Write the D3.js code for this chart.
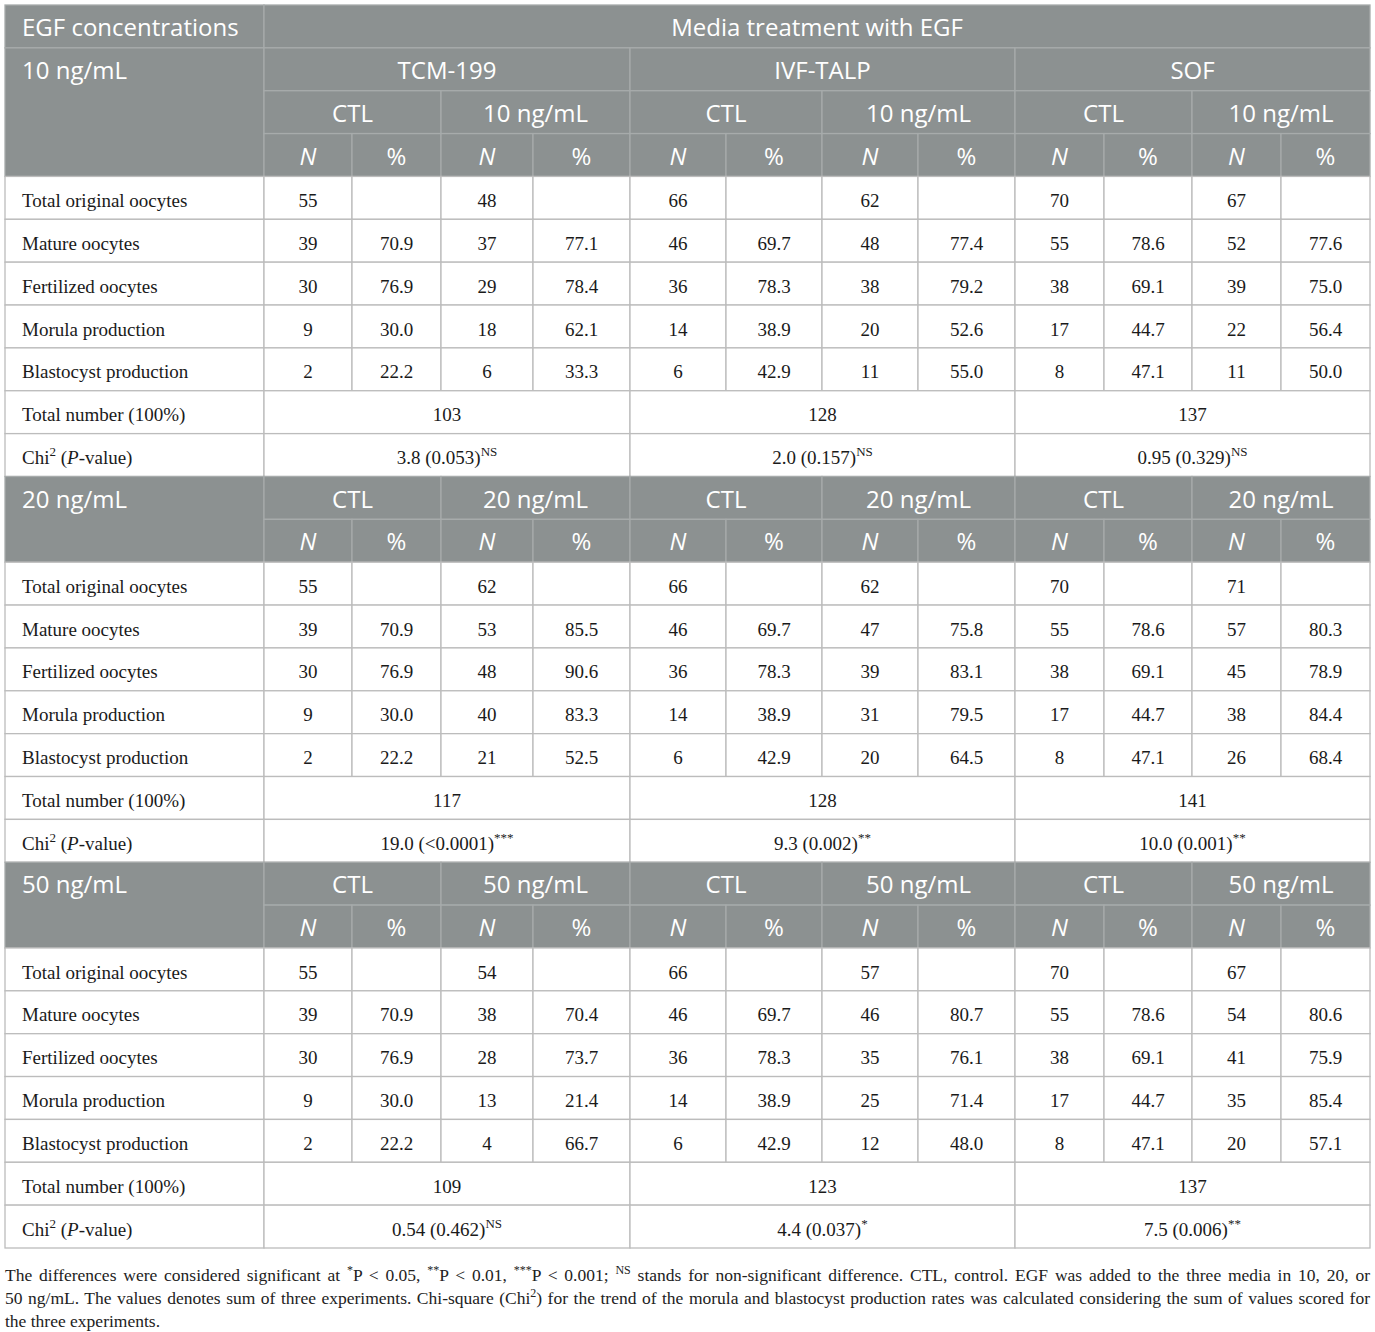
<!DOCTYPE html>
<html>
<head>
<meta charset="utf-8">
<script src="https://cdn.jsdelivr.net/npm/d3@7"></script>
<style>
  body { margin: 0; background: #fff; }
</style>
</head>
<body>
<div id="table"></div>
<script>
// table content
const media = ["TCM-199", "IVF-TALP", "SOF"];
const doses = ["10 ng/mL", "20 ng/mL", "50 ng/mL"];
const rowLabels = ["Total original oocytes", "Mature oocytes", "Fertilized oocytes", "Morula production", "Blastocyst production"];

// control groups (same in every block), one array per medium
const ctlN = [[55, 39, 30, 9, 2], [66, 46, 36, 14, 6], [70, 55, 38, 17, 8]];
const ctlPct = [[null, "70.9", "76.9", "30.0", "22.2"], [null, "69.7", "78.3", "38.9", "42.9"], [null, "78.6", "69.1", "44.7", "47.1"]];

// EGF groups
const egf10N = [[48, 37, 29, 18, 6], [62, 48, 38, 20, 11], [67, 52, 39, 22, 11]];
const egf10Pct = [[null, "77.1", "78.4", "62.1", "33.3"], [null, "77.4", "79.2", "52.6", "55.0"], [null, "77.6", "75.0", "56.4", "50.0"]];
const egf20N = [[62, 53, 48, 40, 21], [62, 47, 39, 31, 20], [71, 57, 45, 38, 26]];
const egf20Pct = [[null, "85.5", "90.6", "83.3", "52.5"], [null, "75.8", "83.1", "79.5", "64.5"], [null, "80.3", "78.9", "84.4", "68.4"]];
const egf50N = [[54, 38, 28, 13, 4], [57, 46, 35, 25, 12], [67, 54, 41, 35, 20]];
const egf50Pct = [[null, "70.4", "73.7", "21.4", "66.7"], [null, "80.7", "76.1", "71.4", "48.0"], [null, "80.6", "75.9", "85.4", "57.1"]];

const totals = [[103, 128, 137], [117, 128, 141], [109, 123, 137]];
const chiValues = [["3.8 (0.053)", "2.0 (0.157)", "0.95 (0.329)"], ["19.0 (<0.0001)", "9.3 (0.002)", "10.0 (0.001)"], ["0.54 (0.462)", "4.4 (0.037)", "7.5 (0.006)"]];
const chiMarks = [["NS", "NS", "NS"], ["***", "**", "**"], ["NS", "*", "**"]];

const footnote = [
    [["The differences were considered significant at "], ["*", "sup"], ["P < 0.05, "], ["**", "sup"], ["P < 0.01, "], ["***", "sup"], ["P < 0.001; "], ["NS", "sup"], [" stands for non-significant difference. CTL, control. EGF was added to the three media in 10, 20, or"]],
    [["50 ng/mL. The values denotes sum of three experiments. Chi-square (Chi"], ["2", "sup"], [") for the trend of the morula and blastocyst production rates was calculated considering the sum of values scored for"]],
    [["the three experiments."]]
];

const egfN = [egf10N, egf20N, egf50N];
const egfPct = [egf10Pct, egf20Pct, egf50Pct];

// layout
const W = 1375, H = 1332;
const colW = [259, 88, 89, 92, 97, 96, 96, 96, 97, 89, 88, 89, 89];
const colX = [5, ...d3.cumsum(colW).map(d => d + 5)];
const nRows = 29;

const y = d3.scaleBand()
    .domain(d3.range(nRows))
    .range([5, 1248]);

const headFill = "#8c9191";
const headLine = "#a7abab";
const bodyLine = "#bcbcbc";
const sansFont = "'Open Sans', 'Noto Sans', sans-serif";
const serifFont = "'Liberation Serif', 'Times New Roman', serif";

// build the cell list
const cells = [];
function cell(r, c, text, o = {}) {
    cells.push(Object.assign({ r, c, rs: 1, cs: 1, parts: typeof text === "string" ? [[text]] : text, head: false, align: "middle" }, o));
}

let row = 0;
doses.forEach((dose, b) => {
    if (b === 0) {
        cell(0, 0, "EGF concentrations", { head: true, align: "start" });
        cell(0, 1, "Media treatment with EGF", { head: true, cs: 12 });
        cell(1, 0, dose, { head: true, align: "start", rs: 3 });
        media.forEach((m, i) => cell(1, 1 + i * 4, m, { head: true, cs: 4 }));
        row = 2;
    } else {
        cell(row, 0, dose, { head: true, align: "start", rs: 2 });
    }
    media.forEach((m, i) => {
        cell(row, 1 + i * 4, "CTL", { head: true, cs: 2 });
        cell(row, 3 + i * 4, dose, { head: true, cs: 2 });
        for (let k = 0; k < 4; k++) {
            cell(row + 1, 1 + i * 4 + k, k % 2 === 0 ? [["N", "it"]] : "%", { head: true });
        }
    });
    row += 2;

    rowLabels.forEach((lab, j) => {
        cell(row, 0, lab, { align: "start" });
        media.forEach((m, i) => {
            const vals = [ctlN[i][j], ctlPct[i][j], egfN[b][i][j], egfPct[b][i][j]];
            vals.forEach((v, k) => cell(row, 1 + i * 4 + k, v == null ? "" : String(v)));
        });
        row++;
    });

    cell(row, 0, "Total number (100%)", { align: "start" });
    media.forEach((m, i) => cell(row, 1 + i * 4, String(totals[b][i]), { cs: 4 }));
    row++;

    cell(row, 0, [["Chi"], ["2", "sup"], [" ("], ["P", "it"], ["-value)"]], { align: "start" });
    media.forEach((m, i) => cell(row, 1 + i * 4, [[chiValues[b][i]], [chiMarks[b][i], "sup"]], { cs: 4 }));
    row++;
});

const svg = d3.select("#table").append("svg")
    .attr("width", W)
    .attr("height", H)
    .style("display", "block");

const g = svg.selectAll(".cell")
    .data(cells)
  .enter().append("g")
    .attr("class", "cell");

g.append("rect")
    .attr("x", d => colX[d.c])
    .attr("y", d => y(d.r))
    .attr("width", d => colX[d.c + d.cs] - colX[d.c])
    .attr("height", d => y.step() * d.rs)
    .attr("fill", d => d.head ? headFill : "#fff")
    .attr("stroke", d => d.head ? headLine : bodyLine)
    .attr("stroke-width", 1.3);

function addParts(text, parts, supSize, supDy) {
    let raised = false;
    parts.forEach(([t, kind]) => {
        const ts = text.append("tspan").text(t);
        if (kind === "sup") {
            ts.attr("font-size", supSize).attr("dy", -supDy);
            raised = true;
        } else {
            if (raised) { ts.attr("dy", supDy); raised = false; }
            if (kind === "it") ts.attr("font-style", "italic");
        }
    });
}

g.append("text")
    .attr("x", d => d.align === "start" ? colX[d.c] + 17 : (colX[d.c] + colX[d.c + d.cs]) / 2)
    .attr("y", d => y(d.r) + y.step() / 2)
    .attr("dy", d => d.head ? "0.4em" : "0.48em")
    .attr("text-anchor", d => d.align)
    .attr("fill", d => d.head ? "#fff" : "#1a1a1a")
    .attr("font-family", d => d.head ? sansFont : serifFont)
    .attr("font-size", d => d.head ? 24 : 19)
    .each(function(d) {
        addParts(d3.select(this), d.parts, d.head ? 15 : 13, 8);
    });

// footnote, justified like the source
const noteTop = 1281;
footnote.forEach((parts, i) => {
    const t = svg.append("text")
        .attr("x", 5)
        .attr("y", noteTop + i * 23)
        .attr("fill", "#222")
        .attr("font-family", serifFont)
        .attr("font-size", 17.5);
    addParts(t, parts, 12, 7);
    if (i < footnote.length - 1) {
        const len = t.node().getComputedTextLength();
        const spaces = parts.map(p => p[0]).join("").split(" ").length - 1;
        t.style("word-spacing", ((1370 - 5 - len) / spaces) + "px");
    }
});
</script>
</body>
</html>
